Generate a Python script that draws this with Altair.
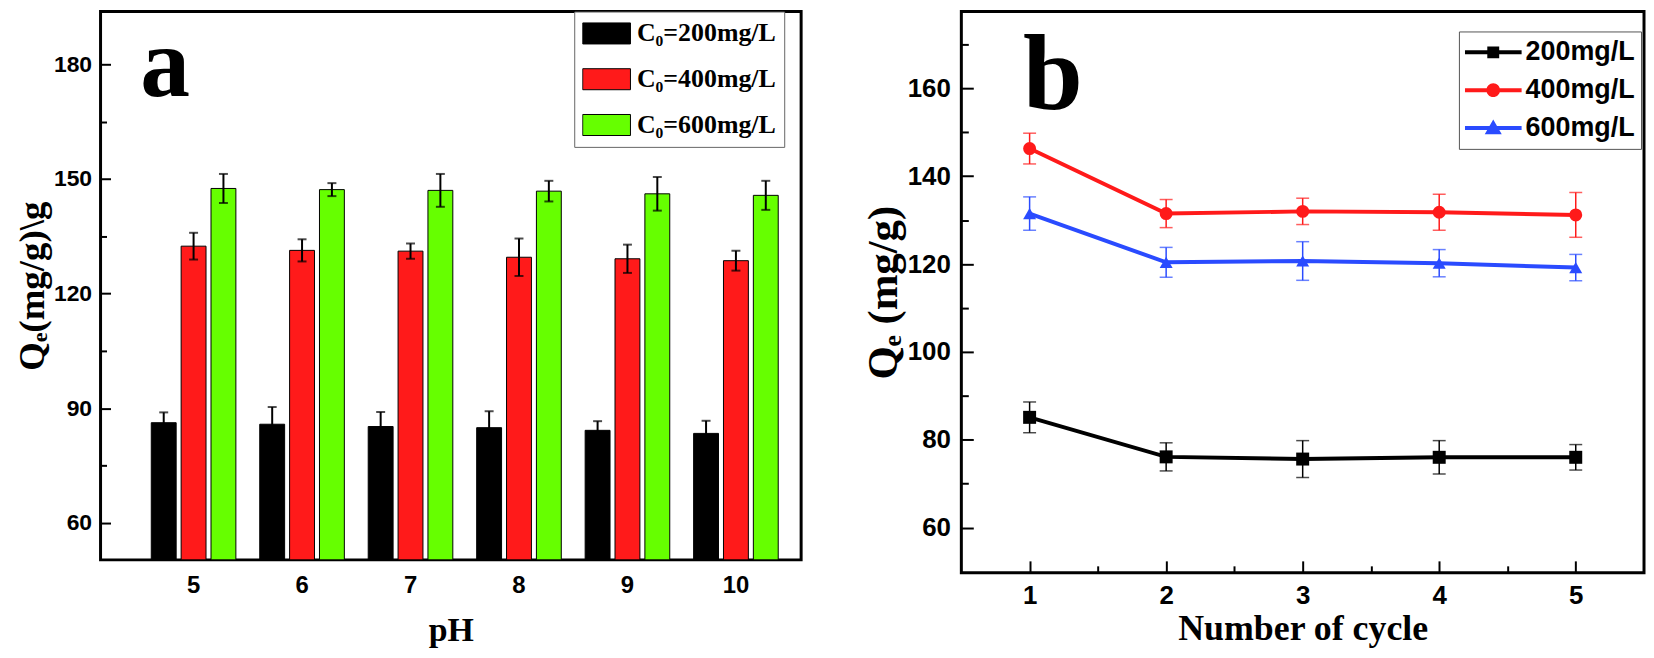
import altair as alt
import pandas as pd

# ---------------- data: panel a (bars vs pH) ----------------
ph = [5, 6, 7, 8, 9, 10]
conc_a = ["C\u2080=200mg/L", "C\u2080=400mg/L", "C\u2080=600mg/L"]
qe_a_200 = [86.2, 85.8, 85.2, 84.9, 84.2, 83.4]
err_a_200 = [2.7, 4.5, 3.8, 4.3, 2.4, 3.3]
qe_a_400 = [132.4, 131.3, 131.1, 129.5, 129.1, 128.6]
err_a_400 = [3.5, 2.9, 2.0, 4.9, 3.7, 2.6]
qe_a_600 = [147.5, 147.2, 147.0, 146.8, 146.1, 145.7]
err_a_600 = [3.8, 1.7, 4.3, 2.7, 4.4, 3.8]
colors_a = ["#000000", "#ff1a1a", "#66ff00"]
yticks_a = [60, 90, 120, 150, 180]
yminor_a = [75, 105, 135, 165]

# ---------------- data: panel b (cycles) ----------------
cycle = [1, 2, 3, 4, 5]
conc_b = ["200mg/L", "400mg/L", "600mg/L"]
qe_b_200 = [85.1, 76.1, 75.6, 76.0, 76.0]
err_b_200 = [3.5, 3.2, 4.2, 3.8, 2.9]
qe_b_400 = [146.3, 131.5, 132.0, 131.8, 131.2]
err_b_400 = [3.5, 3.2, 3.0, 4.1, 5.1]
qe_b_600 = [131.5, 120.4, 120.7, 120.2, 119.2]
err_b_600 = [3.8, 3.4, 4.4, 3.1, 3.0]
colors_b = ["#000000", "#ff1a1a", "#2a4bff"]
xticks_b = [1, 2, 3, 4, 5]
xminor_b = [1.5, 2.5, 3.5, 4.5]
yticks_b = [60, 80, 100, 120, 140, 160]
yminor_b = [70, 90, 110, 130, 150, 170]

rows_a = []
for name, vals, errs in zip(conc_a, [qe_a_200, qe_a_400, qe_a_600], [err_a_200, err_a_400, err_a_600]):
    for p, v, e in zip(ph, vals, errs):
        rows_a.append({"series": name, "pH": p, "qe": v, "err": e})
df_a = pd.DataFrame(rows_a)

rows_b = []
for name, vals, errs in zip(conc_b, [qe_b_200, qe_b_400, qe_b_600], [err_b_200, err_b_400, err_b_600]):
    for c, v, e in zip(cycle, vals, errs):
        rows_b.append({"series": name, "cycle": c, "qe": v, "err": e})
df_b = pd.DataFrame(rows_b)

SANS = "Liberation Sans"
SERIF = "Liberation Serif, DejaVu Serif"

# ---------------- panel a ----------------
y_a = alt.Scale(domain=[50.3, 193.8], nice=False, zero=False)
x_a = alt.Scale(paddingInner=0.22, paddingOuter=0.3394, align=0.689)
off_a = alt.Scale(domain=conc_a, paddingInner=0.1667, paddingOuter=0)
col_a = alt.Scale(domain=conc_a, range=colors_a)

rect_path = "M-1,-0.44L1,-0.44L1,0.44L-1,0.44Z"
leg_a = alt.Legend(
    title=None, orient="none", legendX=476, legendY=0,
    symbolType=rect_path, symbolSize=2304, symbolStrokeColor="black", symbolStrokeWidth=1,
    labelFont=SERIF, labelFontWeight="bold", labelFontSize=26, labelColor="black",
    labelOffset=6, labelLimit=400, padding=8, clipHeight=28, rowPadding=18,
    strokeColor="#666666", fillColor="white",
)

base_a = alt.Chart(df_a).transform_calculate(lo="datum.qe - datum.err", hi="datum.qe + datum.err")

xaxis_a = alt.Axis(title="pH", titleFont=SERIF, titleFontSize=34, titleFontWeight="bold",
                   titlePadding=16, labelFont=SANS, labelFontSize=24, labelFontWeight="bold",
                   labelAngle=0, offset=-10, tickSize=10, tickWidth=2, labelPadding=14, domain=False,
                   orient="bottom")
yaxis_a = alt.Axis(title="Q\u2091(mg/g)\\g", titleFont=SERIF, titleFontSize=37, titleFontWeight="bold",
                   titlePadding=2, labelFont=SANS, labelFontSize=23, labelFontWeight="bold",
                   values=yticks_a, offset=-10, tickSize=10, tickWidth=2, labelPadding=9, domain=False,
                   orient="left")
yminor_axis_a = alt.Axis(title=None, labels=False, values=yminor_a, offset=-6, tickSize=6,
                         tickWidth=2, domain=False, orient="left")

bars = base_a.mark_bar(stroke="black", strokeWidth=1).encode(
    x=alt.X("pH:O", scale=x_a, axis=xaxis_a),
    xOffset=alt.XOffset("series:N", scale=off_a),
    y=alt.Y("qe:Q", scale=y_a, axis=yaxis_a),
    y2=alt.datum(50.3),
    color=alt.Color("series:N", scale=col_a, legend=leg_a),
)
err_a = base_a.mark_rule(color="black", strokeWidth=2).encode(
    x=alt.X("pH:O", scale=x_a, axis=None),
    xOffset=alt.XOffset("series:N", scale=off_a),
    y=alt.Y("lo:Q", scale=y_a, axis=yminor_axis_a),
    y2="hi:Q",
)
cap_a_hi = base_a.mark_tick(color="black", thickness=2, size=9, orient="horizontal").encode(
    x=alt.X("pH:O", scale=x_a, axis=None),
    xOffset=alt.XOffset("series:N", scale=off_a),
    y=alt.Y("hi:Q", scale=y_a, axis=None),
)
cap_a_lo = base_a.mark_tick(color="black", thickness=2, size=9, orient="horizontal").encode(
    x=alt.X("pH:O", scale=x_a, axis=None),
    xOffset=alt.XOffset("series:N", scale=off_a),
    y=alt.Y("lo:Q", scale=y_a, axis=None),
)
letter_a = alt.Chart(pd.DataFrame({"label": ["a"]})).mark_text(
    font=SERIF, fontWeight="bold", fontSize=100, align="left", baseline="alphabetic", color="black"
).encode(text="label:N", x=alt.value(40), y=alt.value(85))

panel_a = alt.layer(bars, err_a, cap_a_hi, cap_a_lo, letter_a).resolve_axis(
    x="independent", y="independent"
).properties(width=704, height=551)

# ---------------- panel b ----------------
y_b = alt.Scale(domain=[49.7, 177.5], nice=False, zero=False)
x_b = alt.Scale(domain=[0.5, 5.5], nice=False, zero=False)
col_b = alt.Scale(domain=conc_b, range=colors_b)

line_seg = "M-1,-0.07L1,-0.07L1,0.07L-1,0.07Z"
leg_shapes = [
    line_seg + " M-0.21,-0.21L0.21,-0.21L0.21,0.21L-0.21,0.21Z",
    line_seg + " M0.24,0A0.24 0.24 0 1 1 -0.24,0A0.24 0.24 0 1 1 0.24,0Z",
    line_seg + " M0,-0.3L0.3,0.22L-0.3,0.22Z",
]
leg_b = alt.Legend(
    title=None, orient="none", legendX=500, legendY=20, symbolSize=3249,
    labelFont=SANS, labelFontWeight="bold", labelFontSize=27, labelColor="black",
    labelOffset=4, labelLimit=400, padding=6, clipHeight=30, rowPadding=8,
    strokeColor="#555555", fillColor="white", symbolStrokeWidth=0, symbolOpacity=1,
)

base_b = alt.Chart(df_b).transform_calculate(lo="datum.qe - datum.err", hi="datum.qe + datum.err")

xaxis_b = alt.Axis(title="Number of cycle", titleFont=SERIF, titleFontSize=36, titleFontWeight="bold",
                   titlePadding=3, labelFont=SANS, labelFontSize=26, labelFontWeight="bold",
                   values=xticks_b, format="d", offset=-12, tickSize=12, tickWidth=2, labelPadding=10,
                   domain=False, orient="bottom")
yaxis_b = alt.Axis(title="Q\u2091 (mg/g)", titleFont=SERIF, titleFontSize=43, titleFontWeight="bold",
                   titlePadding=2, labelFont=SANS, labelFontSize=26, labelFontWeight="bold",
                   values=yticks_b, offset=-12, tickSize=12, tickWidth=2, labelPadding=11,
                   domain=False, orient="left")
xminor_axis_b = alt.Axis(title=None, labels=False, values=xminor_b, offset=-7, tickSize=7, tickWidth=2,
                         domain=False, orient="bottom")
yminor_axis_b = alt.Axis(title=None, labels=False, values=yminor_b, offset=-7, tickSize=7, tickWidth=2,
                         domain=False, orient="left")

line_b = base_b.mark_line(strokeWidth=4).encode(
    x=alt.X("cycle:Q", scale=x_b, axis=xaxis_b),
    y=alt.Y("qe:Q", scale=y_b, axis=yaxis_b),
    color=alt.Color("series:N", scale=col_b, legend=None),
)
err_b = base_b.mark_rule(strokeWidth=1.5).encode(
    x=alt.X("cycle:Q", scale=x_b, axis=xminor_axis_b),
    y=alt.Y("lo:Q", scale=y_b, axis=yminor_axis_b),
    y2="hi:Q",
    color=alt.Color("series:N", scale=col_b, legend=None),
)
cap_b_hi = base_b.mark_tick(thickness=1.5, size=13, orient="horizontal").encode(
    x=alt.X("cycle:Q", scale=x_b, axis=None),
    y=alt.Y("hi:Q", scale=y_b, axis=None),
    color=alt.Color("series:N", scale=col_b, legend=None),
)
cap_b_lo = base_b.mark_tick(thickness=1.5, size=13, orient="horizontal").encode(
    x=alt.X("cycle:Q", scale=x_b, axis=None),
    y=alt.Y("lo:Q", scale=y_b, axis=None),
    color=alt.Color("series:N", scale=col_b, legend=None),
)
points_b = base_b.mark_point(filled=True, size=170, opacity=1).encode(
    x=alt.X("cycle:Q", scale=x_b, axis=None),
    y=alt.Y("qe:Q", scale=y_b, axis=None),
    color=alt.Color("series:N", scale=col_b, legend=None),
    shape=alt.Shape("series:N", scale=alt.Scale(domain=conc_b, range=["square", "circle", "triangle-up"]),
                    legend=None),
)
# legend-only layer: no marks drawn, but its scales carry the legend (line + marker symbols)
legend_b_layer = base_b.transform_filter("false").mark_point(filled=True).encode(
    x=alt.X("cycle:Q", scale=x_b, axis=None),
    y=alt.Y("qe:Q", scale=y_b, axis=None),
    color=alt.Color("series:N", scale=col_b, legend=leg_b),
    shape=alt.Shape("series:N", scale=alt.Scale(domain=conc_b, range=leg_shapes), legend=leg_b),
)
letter_b = alt.Chart(pd.DataFrame({"label": ["b"]})).mark_text(
    font=SERIF, fontWeight="bold", fontSize=108, align="left", baseline="alphabetic", color="black"
).encode(text="label:N", x=alt.value(62), y=alt.value(98))

panel_b = alt.layer(line_b, err_b, cap_b_hi, cap_b_lo, points_b, legend_b_layer, letter_b).resolve_scale(
    color="independent", shape="independent"
).resolve_axis(x="independent", y="independent").properties(width=686, height=564)

chart = alt.hconcat(panel_a, panel_b, spacing=58).properties(
    padding={"left": 4, "top": 0, "right": 0, "bottom": 0}
).configure_view(
    stroke="black", strokeWidth=3
).configure_axis(
    grid=False, tickColor="black", labelColor="black", titleColor="black"
)

chart.save("out.html", embed_options={"renderer": "svg", "actions": False})
